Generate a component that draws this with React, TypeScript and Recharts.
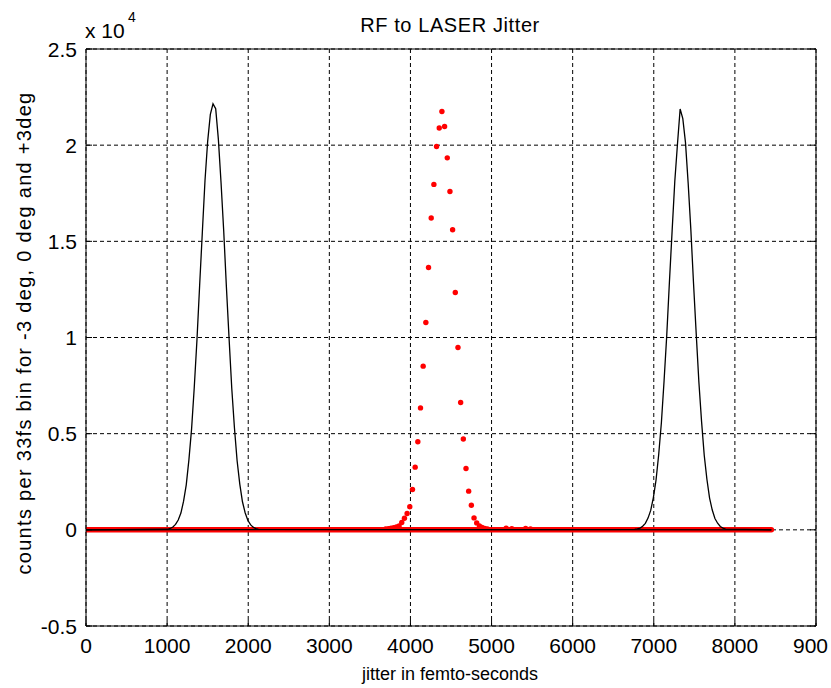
import React from 'react';
import { ComposedChart, Line, Scatter, XAxis, YAxis, CartesianGrid } from 'recharts';

// histogram range (bin centres, 33 fs bins)
const histRange = [0, 8450];

// -3 deg (black, left peak)
const minus3X = [1005, 1038, 1071, 1104, 1137, 1170, 1203, 1236, 1269, 1302, 1335, 1368, 1401, 1434, 1467, 1500, 1533, 1566, 1599, 1632, 1665, 1698, 1731, 1764, 1797, 1830, 1863, 1896, 1929, 1962, 1995, 2028, 2061, 2094, 2127];
const minus3Counts = [30, 70, 150, 280, 510, 870, 1490, 2340, 3650, 5260, 7430, 9870, 12700, 15450, 18150, 20200, 21600, 22150, 21900, 20300, 18050, 15520, 12630, 9950, 7360, 5310, 3590, 2380, 1460, 890, 500, 270, 140, 60, 25];

// 0 deg (red dots, middle peak)
const zeroX = [3695, 3728, 3761, 3794, 3827, 3860, 3893, 3926, 3959, 3992, 4025, 4058, 4091, 4124, 4157, 4190, 4223, 4256, 4289, 4322, 4355, 4388, 4421, 4454, 4487, 4520, 4553, 4586, 4619, 4652, 4685, 4718, 4751, 4784, 4817, 4850, 4883, 4916, 4949, 5180, 5250, 5420, 5480];
const zeroCounts = [40, 60, 80, 110, 150, 200, 380, 600, 850, 1200, 2100, 3260, 4580, 6340, 8510, 10780, 13640, 16210, 17960, 19930, 20890, 21750, 20970, 19340, 17590, 15600, 12340, 9480, 6620, 4720, 3190, 2010, 1280, 620, 360, 200, 120, 70, 40, 90, 60, 70, 50];

// +3 deg (black, right peak)
const plus3X = [6764, 6797, 6830, 6863, 6896, 6929, 6962, 6995, 7028, 7061, 7094, 7127, 7160, 7193, 7226, 7259, 7292, 7325, 7358, 7391, 7424, 7457, 7490, 7523, 7556, 7589, 7622, 7655, 7688, 7721, 7754, 7787, 7820, 7853, 7886];
const plus3Counts = [20, 48, 90, 185, 335, 610, 1010, 1680, 2590, 3930, 5580, 7750, 10120, 12900, 15530, 18110, 20050, 21880, 21380, 20130, 18020, 15610, 12820, 10210, 7690, 5640, 3880, 2630, 1650, 1030, 590, 345, 175, 90, 40];

const xTicks = [0, 1000, 2000, 3000, 4000, 5000, 6000, 7000, 8000, 9000];
// the last label is cut at the figure edge in the original
const xTickLabels = ['0', '1000', '2000', '3000', '4000', '5000', '6000', '7000', '8000', '900'];
const yTicks = [-5000, 0, 5000, 10000, 15000, 20000, 25000];

const FONT = '"Liberation Sans", Arial, Helvetica, sans-serif';

const withBaseline = (xs: number[], ys: number[]) => [
  { x: histRange[0], y: 0 },
  ...xs.map((x, i) => ({ x, y: ys[i] })),
  { x: histRange[1], y: 0 },
];

const minus3Data = withBaseline(minus3X, minus3Counts);
const plus3Data = withBaseline(plus3X, plus3Counts);
const zeroData = zeroX.map((x, i) => ({ x, y: zeroCounts[i] }));
const zeroBase = histRange.map((x) => ({ x, y: 0 }));

const BottomTick = (props: any) => {
  const { x, y, payload, index } = props;
  const label = xTickLabels[index] ?? String(payload.value);
  const cut = label.length < String(payload.value).length;
  return (
    <g>
      <line x1={x} x2={x} y1={y} y2={y - 6} stroke="#000" />
      <text x={cut ? x - 23 : x} y={y + 27} textAnchor={cut ? 'start' : 'middle'}
        fontSize={21} fontFamily={FONT} fill="#000">
        {label}
      </text>
    </g>
  );
};

const TopTick = (props: any) => {
  const { x, y } = props;
  return <line x1={x} x2={x} y1={y} y2={y + 6} stroke="#000" />;
};

const LeftTick = (props: any) => {
  const { x, y, payload } = props;
  return (
    <g>
      <line x1={x} x2={x + 6} y1={y} y2={y} stroke="#000" />
      <text x={x - 9} y={y + 7.5} textAnchor="end" fontSize={21} fontFamily={FONT} fill="#000">
        {payload.value / 10000}
      </text>
    </g>
  );
};

const RightTick = (props: any) => {
  const { x, y } = props;
  return <line x1={x} x2={x - 6} y1={y} y2={y} stroke="#000" />;
};

const RedDot = (props: any) => <circle cx={props.cx} cy={props.cy} r={2.7} fill="#ff0000" />;

export default function App() {
  return (
    <div style={{ position: 'absolute', left: 0, top: 0, width: 831, height: 688, background: '#fff' }}>
      <ComposedChart width={831} height={688} margin={{ top: 48, right: 14, bottom: 32, left: 26 }}>
        <CartesianGrid stroke="#000" strokeDasharray="4 3" />
        <XAxis dataKey="x" type="number" domain={[0, 9000]} ticks={xTicks} allowDataOverflow interval={0}
          height={30} tickSize={0} tickMargin={0} tickLine={false} tick={<BottomTick />} axisLine={{ stroke: '#000' }} />
        <XAxis xAxisId="top" orientation="top" type="number" domain={[0, 9000]} ticks={xTicks} allowDataOverflow interval={0}
          height={1} tickSize={0} tickMargin={0} tickLine={false} tick={<TopTick />} axisLine={{ stroke: '#000' }} />
        <YAxis dataKey="y" type="number" domain={[-5000, 25000]} ticks={yTicks} allowDataOverflow interval={0}
          width={60} tickSize={0} tickMargin={0} tickLine={false} tick={<LeftTick />} axisLine={{ stroke: '#000' }} />
        <YAxis yAxisId="right" orientation="right" type="number" domain={[-5000, 25000]} ticks={yTicks} allowDataOverflow interval={0}
          width={1} tickSize={0} tickMargin={0} tickLine={false} tick={<RightTick />} axisLine={{ stroke: '#000' }} />
        <Line data={zeroBase} dataKey="y" type="linear" stroke="#ff0000" strokeWidth={5.5} strokeLinecap="round"
          dot={false} activeDot={false} isAnimationActive={false} zIndex={350} />
        <Scatter data={zeroData} dataKey="y" shape={<RedDot />} isAnimationActive={false} zIndex={360} />
        <Line data={minus3Data} dataKey="y" type="linear" stroke="#000" strokeWidth={1.3}
          dot={false} activeDot={false} isAnimationActive={false} zIndex={700} />
        <Line data={plus3Data} dataKey="y" type="linear" stroke="#000" strokeWidth={1.3}
          dot={false} activeDot={false} isAnimationActive={false} zIndex={700} />
      </ComposedChart>
      <svg width={831} height={688} style={{ position: 'absolute', left: 0, top: 0, pointerEvents: 'none' }}>
        <g fontFamily={FONT} fill="#000">
          <text x={450} y={32} textAnchor="middle" fontSize={20} letterSpacing={0.6}>RF to LASER Jitter</text>
          <text x={85} y={38} fontSize={21}>x 10</text>
          <text x={128} y={22} fontSize={14}>4</text>
          <text x={450} y={680} textAnchor="middle" fontSize={18}>jitter in femto-seconds</text>
          <text x={31} y={333} textAnchor="middle" fontSize={20} letterSpacing={1.3} transform="rotate(-90 31 333)">
            counts per 33fs bin for -3 deg, 0 deg and +3deg
          </text>
        </g>
      </svg>
    </div>
  );
}
